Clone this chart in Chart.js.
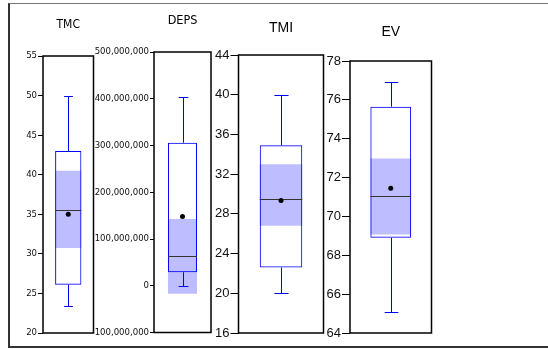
<!DOCTYPE html>
<html>
<head>
<meta charset="utf-8">
<script src="https://cdn.jsdelivr.net/npm/chart.js@4"></script>
<style>
  html, body { margin: 0; padding: 0; background: #fff; }
  #wrap { position: relative; width: 548px; height: 349px; overflow: hidden; }
  #frame { position: absolute; left: 8px; top: 3px; width: 560px; height: 342px;
           border-left: 2px solid #333; border-top: 1px solid #777; border-bottom: 2px solid #333; }
  canvas { position: absolute; left: 0; top: 0; }
</style>
</head>
<body>
<div id="wrap">
  <div id="frame"></div>
  <canvas id="c0" width="548" height="349"></canvas>
  <canvas id="c1" width="548" height="349"></canvas>
  <canvas id="c2" width="548" height="349"></canvas>
  <canvas id="c3" width="548" height="349"></canvas>
</div>
<script>
// valores
const names = ['TMC', 'DEPS', 'TMI', 'EV'];
const whiskerLow = [23.4, 0, 20, 65.1];
const q1 = [26.1, 29000000, 22.6, 68.9];
const median = [35.6, 63000000, 29.45, 71.05];
const q3 = [43, 306000000, 34.9, 75.65];
const whiskerHigh = [50, 404000000, 40, 76.9];
const mean = [35, 148000000, 29.35, 71.45];
const ciLow = [30.75, -17000000, 26.8, 69.07];
const ciHigh = [40.5, 143000000, 33, 72.98];
const axisMin = [20, -100000000, 16, 64];
const axisMax = [55, 500000000, 44, 78];
const axisStep = [5, 100000000, 4, 2];

// busca una fuente estrecha instalada
function pickNarrow() {
    const c = document.createElement('canvas').getContext('2d');
    const probe = '500,000,000 TMC DEPS';
    c.font = '11px monospace';
    const base = c.measureText(probe).width;
    const candidates = ['Liberation Sans Narrow', 'Arial Narrow', 'DejaVu Sans Condensed'];
    for (const f of candidates) {
        c.font = `11px "${f}", monospace`;
        if (Math.abs(c.measureText(probe).width - base) > 0.5) return `'${f}'`;
    }
    return "'Liberation Sans', Arial";
}
const narrow = pickNarrow() + ', sans-serif';
const normal = "'Liberation Sans', Arial, sans-serif";

// posicion de cada panel en la pagina
const layout = [
    { left: 43, right: 93.5, top: 56, bottom: 333, axisW: 30, tick: 5, pad: 1, bar: 0.52,
      tickFont: { family: narrow, size: 9.5 }, titleFont: { family: narrow, size: 12 }, titleY: 25 },
    { left: 154, right: 211, top: 52, bottom: 332.5, axisW: 75, tick: 4, pad: 1, bar: 0.51,
      tickFont: { family: narrow, size: 9.5 }, titleFont: { family: narrow, size: 12.5 }, titleY: 21 },
    { left: 238.5, right: 323.5, top: 55, bottom: 333, axisW: 30, tick: 8, pad: 1, bar: 0.5,
      tickFont: { family: normal, size: 13 }, titleFont: { family: normal, size: 14 }, titleY: 28 },
    { left: 350, right: 431.5, top: 61, bottom: 333, axisW: 30, tick: 8, pad: 1, bar: 0.5,
      tickFont: { family: normal, size: 13 }, titleFont: { family: normal, size: 14 }, titleY: 32 }
];

const boxPlugin = {
    id: 'boxExtras',
    afterDatasetDraw(chart, args) {
        if (args.index !== 0) return;
        const i = chart.options.plugins.boxExtras.panel;
        const bar = chart.getDatasetMeta(0).data[0];
        const y = chart.scales.y;
        const ctx = chart.ctx;
        const x = Math.round(bar.x) + 0.5;
        const half = bar.width / 2;
        const cap = bar.width / 6;
        const yHi = Math.round(y.getPixelForValue(whiskerHigh[i])) + 0.5;
        const yLo = Math.round(y.getPixelForValue(whiskerLow[i])) + 0.5;
        ctx.save();
        ctx.lineWidth = 1;
        ctx.strokeStyle = '#0000ff';
        ctx.beginPath();
        ctx.moveTo(x, y.getPixelForValue(q3[i]));
        ctx.lineTo(x, yHi);
        ctx.moveTo(x, y.getPixelForValue(q1[i]));
        ctx.lineTo(x, yLo);
        ctx.moveTo(x - cap, yHi);
        ctx.lineTo(x + cap, yHi);
        ctx.moveTo(x - cap, yLo);
        ctx.lineTo(x + cap, yLo);
        ctx.stroke();
        ctx.strokeStyle = '#333';
        ctx.beginPath();
        const ym = Math.round(y.getPixelForValue(median[i])) + 0.5;
        ctx.moveTo(bar.x - half, ym);
        ctx.lineTo(bar.x + half, ym);
        ctx.stroke();
        ctx.restore();
    },
    afterDraw(chart) {
        const a = chart.chartArea;
        const ctx = chart.ctx;
        ctx.save();
        ctx.strokeStyle = '#000';
        ctx.lineWidth = 1.5;
        ctx.strokeRect(a.left, a.top, a.right - a.left, a.bottom - a.top);
        ctx.restore();
    }
};

names.forEach((name, i) => {
    const g = layout[i];
    const tsize = g.titleFont.size;
    const ctx = document.getElementById('c' + i).getContext('2d');
    new Chart(ctx, {
        type: 'bar',
        data: {
            labels: [name],
            datasets: [{
                label: 'caja',
                data: [[q1[i], q3[i]]],
                backgroundColor: 'rgba(0,0,0,0)',
                borderColor: '#0000ff',
                borderWidth: 1,
                borderSkipped: false,
                barPercentage: g.bar,
                categoryPercentage: 1,
                grouped: false
            }, {
                label: 'intervalo',
                data: [[ciLow[i], ciHigh[i]]],
                backgroundColor: '#bdbdff',
                borderWidth: 0,
                barPercentage: g.bar,
                categoryPercentage: 1,
                grouped: false
            }, {
                type: 'line',
                label: 'media',
                data: [mean[i]],
                showLine: false,
                pointRadius: 2.5,
                pointBorderWidth: 0,
                pointBackgroundColor: '#000',
                order: -1
            }]
        },
        options: {
            responsive: false,
            animation: false,
            events: [],
            layout: {
                padding: {
                    left: g.left - g.axisW,
                    right: 548 - g.right,
                    top: g.titleY - 0.6 * tsize,
                    bottom: 349 - g.bottom
                }
            },
            plugins: {
                legend: { display: false },
                tooltip: { enabled: false },
                title: {
                    display: true,
                    text: name,
                    fullSize: false,
                    color: '#000',
                    font: { family: g.titleFont.family, size: tsize, weight: 'normal', lineHeight: 1.2 },
                    padding: { top: 0, bottom: g.top - g.titleY - 0.6 * tsize }
                },
                boxExtras: { panel: i }
            },
            scales: {
                x: { display: false },
                y: {
                    min: axisMin[i],
                    max: axisMax[i],
                    afterFit: s => { s.width = g.axisW; },
                    ticks: {
                        stepSize: axisStep[i],
                        color: '#111',
                        padding: g.pad,
                        font: g.tickFont,
                        callback: v => v.toLocaleString('en-US')
                    },
                    grid: { drawOnChartArea: false, drawTicks: true, tickLength: g.tick, color: '#000' },
                    border: { display: false }
                }
            }
        },
        plugins: [boxPlugin]
    });
});
</script>
</body>
</html>
